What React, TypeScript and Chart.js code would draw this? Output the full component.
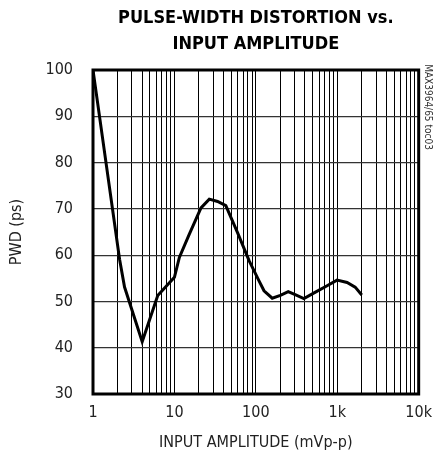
import React, { useEffect, useRef } from "react";
import { Chart, registerables } from "chart.js";

Chart.register(...registerables);

const TITLE_LINES = ["PULSE-WIDTH DISTORTION vs.", "INPUT AMPLITUDE"];
const X_TITLE = "INPUT AMPLITUDE (mVp-p)";
const Y_TITLE = "PWD (ps)";
const NOTE = "MAX3964/65 toc03";

const amplitude = [1, 2.12, 2.44, 4.02, 6.24, 10, 11.5, 15.2, 21.2, 26.8, 33.9, 42.8, 59.4, 82.6, 109, 126, 159, 200, 250, 309, 389, 540, 750, 993, 1320, 1660, 2000];
const pwd = [100, 59.1, 53.1, 41.3, 51.3, 55.2, 59.5, 64.5, 70.2, 72.1, 71.6, 70.7, 64.9, 58.8, 54.5, 52.3, 50.7, 51.3, 52.1, 51.4, 50.6, 52.0, 53.4, 54.6, 54.1, 53.1, 51.4];

const xMajorTicks = [1, 10, 100, 1000, 10000];
const xMajorLabels = ["1", "10", "100", "1k", "10k"];
const yMin = 30;
const yMax = 100;
const yStep = 10;

const FONT = "'Liberation Sans Narrow', 'DejaVu Sans Condensed', Arial, sans-serif";

export default function App() {
  const ref = useRef<HTMLCanvasElement | null>(null);

  useEffect(() => {
    if (!ref.current) return;
    const minorTicks: number[] = [];
    for (let d = 1; d < 10000; d *= 10) {
      for (let k = 1; k <= 9; k++) minorTicks.push(k * d);
    }
    minorTicks.push(10000);

    const textPlugin = {
      id: "texts",
      afterDraw(chart: any) {
        const ctx = chart.ctx;
        const a = chart.chartArea;
        ctx.save();
        // border
        ctx.strokeStyle = "#000";
        ctx.lineWidth = 3;
        ctx.strokeRect(a.left, a.top, a.right - a.left, a.bottom - a.top);
        const cx = (a.left + a.right) / 2;
        // title
        ctx.fillStyle = "#000";
        ctx.textAlign = "center";
        ctx.textBaseline = "middle";
        ctx.font = "bold 18px " + FONT;
        ctx.fillText(TITLE_LINES[0], cx, 18);
        ctx.fillText(TITLE_LINES[1], cx, 44);
        // x title
        ctx.font = "16px " + FONT;
        ctx.fillStyle = "#222";
        ctx.fillText(X_TITLE, cx, 443);
        // y title
        ctx.save();
        ctx.translate(17, (a.top + a.bottom) / 2);
        ctx.rotate(-Math.PI / 2);
        ctx.fillText(Y_TITLE, 0, 0);
        ctx.restore();
        // note
        ctx.save();
        ctx.translate(428, 107);
        ctx.rotate(Math.PI / 2);
        ctx.font = "10px " + FONT;
        ctx.fillStyle = "#333";
        ctx.fillText(NOTE, 0, 0);
        ctx.restore();
        ctx.restore();
      },
    };

    const chart = new Chart(ref.current, {
      type: "line",
      data: {
        datasets: [
          {
            data: amplitude.map((x, i) => ({ x, y: pwd[i] })),
            borderColor: "#000",
            borderWidth: 3,
            pointRadius: 0,
            tension: 0,
            fill: false,
          },
        ],
      },
      options: {
        responsive: false,
        animation: false,
        layout: { padding: { top: 70, right: 21, left: 0, bottom: 0 } },
        plugins: { legend: { display: false }, tooltip: { enabled: false }, title: { display: false } },
        scales: {
          x: {
            type: "logarithmic",
            min: 1,
            max: 10000,
            afterBuildTicks: (scale: any) => {
              scale.ticks = minorTicks.map((v) => ({ value: v, major: xMajorTicks.includes(v) }));
            },
            afterFit: (scale: any) => {
              scale.height = 62;
            },
            ticks: {
              autoSkip: false,
              maxRotation: 0,
              padding: 9,
              color: "#222",
              font: { family: FONT, size: 16 },
              callback: (v: any) => {
                const idx = xMajorTicks.indexOf(Number(v));
                return idx >= 0 ? xMajorLabels[idx] : "";
              },
            },
            grid: { color: "#000", lineWidth: 1, drawTicks: false },
            border: { display: false },
          },
          y: {
            min: yMin,
            max: yMax,
            afterFit: (scale: any) => {
              scale.width = 93;
            },
            ticks: {
              stepSize: yStep,
              padding: 20,
              color: "#222",
              font: { family: FONT, size: 16 },
            },
            grid: { color: "#333", lineWidth: 1.2, drawTicks: false },
            border: { display: false },
          },
        },
      },
      plugins: [textPlugin],
    });
    return () => chart.destroy();
  }, []);

  return (
    <div style={{ position: "absolute", left: 0, top: 0, width: 441, height: 456, background: "#fff" }}>
      <canvas ref={ref} width={441} height={456} />
    </div>
  );
}
